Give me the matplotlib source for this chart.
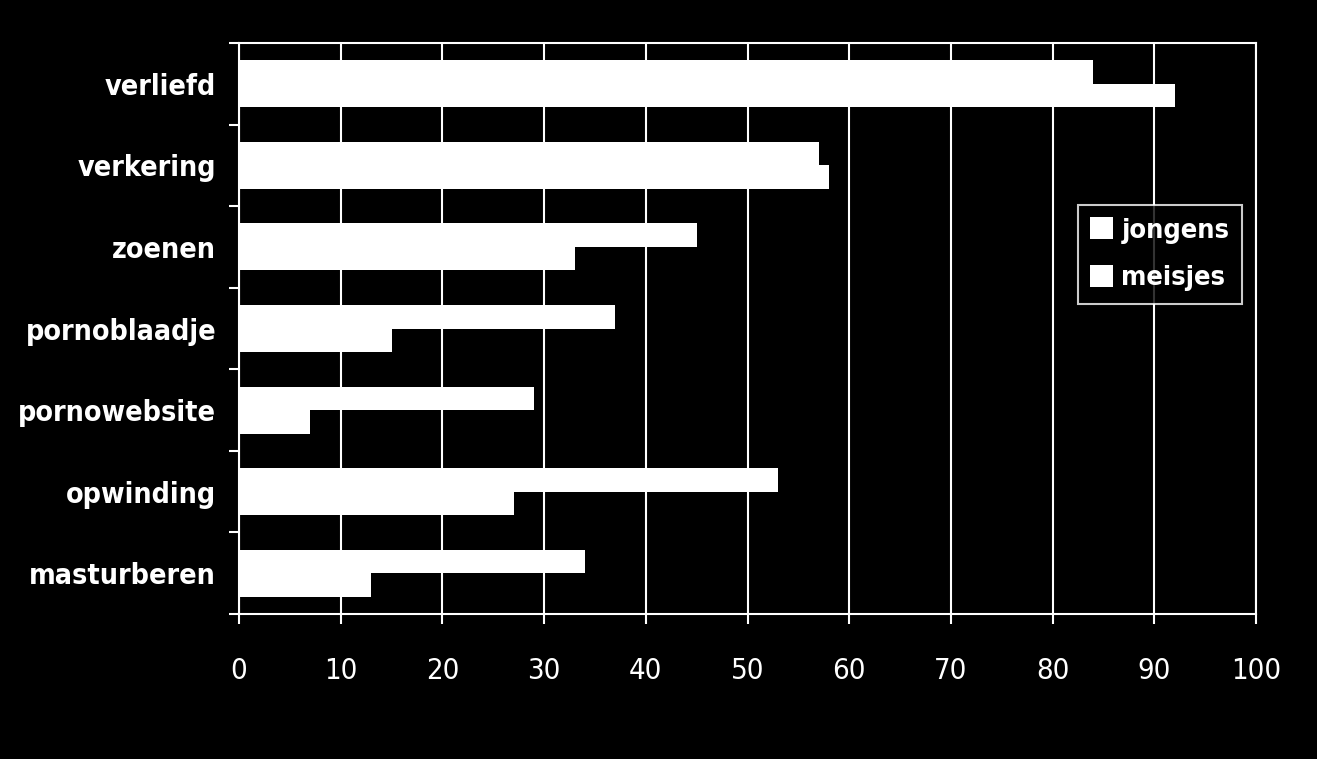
import numpy as np
import matplotlib.pyplot as plt
from matplotlib.ticker import FixedLocator

categories = ['verliefd', 'verkering', 'zoenen', 'pornoblaadje', 'pornowebsite', 'opwinding', 'masturberen']
jongens = [84, 57, 45, 37, 29, 53, 34]
meisjes = [92, 58, 33, 15, 7, 27, 13]
xticks = [0, 10, 20, 30, 40, 50, 60, 70, 80, 90, 100]

plt.rcParams['font.family'] = ['DejaVu Sans']
fnt = dict(family='DejaVu Sans', stretch='condensed')

fig = plt.figure(figsize=(13.17, 7.59), dpi=100, facecolor='black')
ax = fig.add_axes([0.1815, 0.191, 0.7722, 0.7523], facecolor='black')

y = np.arange(len(categories))
h = 0.288
ax.barh(y - h / 2, jongens, height=h, color='white', label='jongens', zorder=3)
ax.barh(y + h / 2, meisjes, height=h, color='white', label='meisjes', zorder=3)

ax.set_xlim(0, 100)
ax.set_ylim(len(categories) - 0.5, -0.5)
ax.set_xticks(xticks)
ax.set_xticklabels([str(v) for v in xticks], color='white', fontsize=21, **fnt)
ax.set_yticks(y)
ax.set_yticklabels(categories, color='white', fontsize=20.5, weight='bold', **fnt)
ax.yaxis.set_minor_locator(FixedLocator(np.arange(-0.5, len(categories), 1.0)))
ax.tick_params(axis='y', which='major', length=0, pad=16.5)
ax.tick_params(axis='y', which='minor', length=7, width=1.5, color='white')
ax.tick_params(axis='x', length=7, width=1.5, color='white', pad=24)

ax.grid(axis='x', color='white', linewidth=1.5, zorder=1)
for s in ax.spines.values():
    s.set_color('white')
    s.set_linewidth(1.5)

leg = ax.legend(loc='upper left', bbox_to_anchor=(0.825, 0.716), frameon=True,
                fancybox=False, facecolor='black', edgecolor='white',
                handlelength=0.85, handleheight=0.85, handletextpad=0.3,
                borderpad=0.45, labelspacing=0.8, borderaxespad=0,
                prop=dict(size=19.5, weight='bold', **fnt))
leg.get_frame().set_linewidth(1.5)
for t in leg.get_texts():
    t.set_color('white')

fig.savefig('out.png', dpi=100, facecolor='black')
